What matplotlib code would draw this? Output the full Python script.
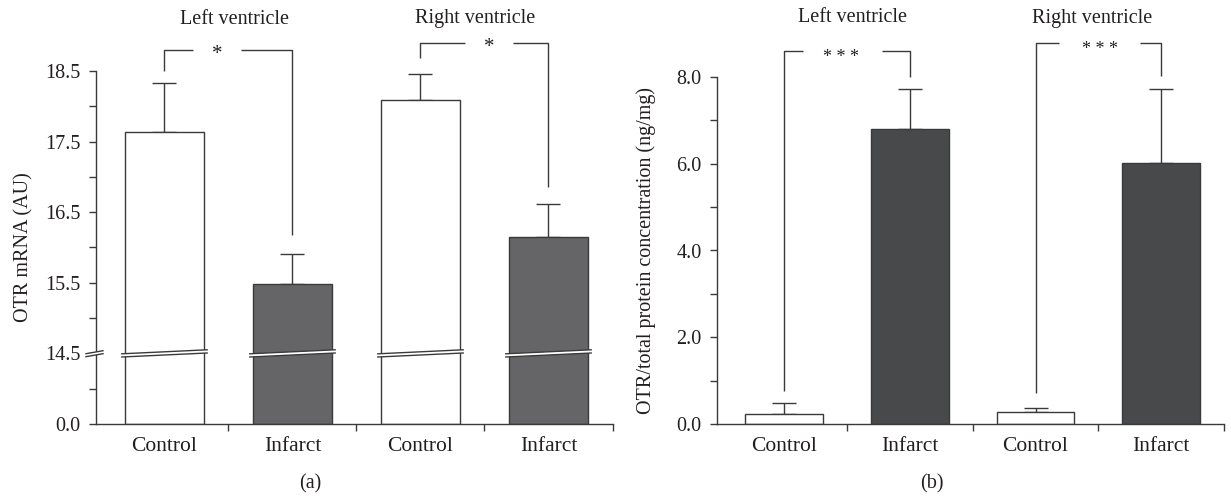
import numpy as np
import matplotlib
matplotlib.use("Agg")
import matplotlib.pyplot as plt
from matplotlib.transforms import blended_transform_factory
from matplotlib.patches import Polygon
from matplotlib.ticker import FixedLocator, FixedFormatter

# ---------------- data ----------------
categories = ["Control", "Infarct", "Control", "Infarct"]
groups = ["Left ventricle", "Right ventricle"]

mrna_mean = [17.64, 15.49, 18.09, 16.15]
mrna_err = [0.69, 0.42, 0.37, 0.46]

protein_mean = [0.23, 6.80, 0.27, 6.01]
protein_err = [0.25, 0.92, 0.09, 1.71]

# brackets: (x_left, x_right, y_top, y_left_leg, y_right_leg, label, gap_start, gap_end, label_x)
mrna_brackets = [
    (0, 1, 18.80, 18.50, 16.18, "*", 0.22, 0.60, 0.41),
    (2, 3, 18.90, 18.68, 16.86, "*", 2.35, 2.72, 2.54),
]
protein_brackets = [
    (0, 1, 8.60, 0.76, 8.00, "* * *", 0.15, 0.78, 0.455),
    (2, 3, 8.78, 0.72, 8.02, "* * *", 2.19, 2.83, 2.51),
]

mrna_major = [0.0, 14.5, 15.5, 16.5, 17.5, 18.5]
mrna_minor = [7.25, 15.0, 16.0, 17.0, 18.0]
prot_major = [0.0, 2.0, 4.0, 6.0, 8.0]
prot_minor = [1.0, 3.0, 5.0, 7.0]

# ---------------- style ----------------
plt.rcParams['font.family'] = ['Liberation Serif', 'DejaVu Serif']
TXT = "#231f20"
LINE = "#3a3a3a"
W, H = 1231, 498
fig = plt.figure(figsize=(W / 100, H / 100), dpi=100)

ax1 = fig.add_axes([96 / W, 1 - 424 / H, (612.5 - 96) / W, (424 - 71) / H])
ax2 = fig.add_axes([717 / W, 1 - 424 / H, (1224 - 717) / W, (424 - 77) / H])

BREAK = 14.5


def fwd(v):
    v = np.asarray(v, dtype=float)
    return np.where(v < BREAK, v / BREAK, v - (BREAK - 1))


def inv(d):
    d = np.asarray(d, dtype=float)
    return np.where(d < 1, d * BREAK, d + (BREAK - 1))


x = np.arange(len(categories))
bw = 0.62
left_fill = ["white", "#656567", "white", "#656567"]
right_fill = ["white", "#48494b", "white", "#48494b"]


def style_axes(ax, ylim, major, minor, ylabel, label_x):
    ax.set_xlim(-0.535, 3.5)
    ax.set_ylim(*ylim)
    for s in ["top", "right"]:
        ax.spines[s].set_visible(False)
    for s in ["left", "bottom"]:
        ax.spines[s].set_color(LINE)
        ax.spines[s].set_linewidth(1.0)
    ax.xaxis.set_major_locator(FixedLocator(list(x)))
    ax.xaxis.set_major_formatter(FixedFormatter(categories))
    ax.xaxis.set_minor_locator(FixedLocator([0.5, 1.5, 2.5, 3.5]))
    ax.tick_params(axis="x", which="major", length=0, pad=9, labelsize=15.5, labelcolor=TXT)
    ax.tick_params(axis="x", which="minor", length=5, width=1.0, color=LINE, direction="out")
    ax.yaxis.set_major_locator(FixedLocator(major))
    ax.yaxis.set_major_formatter(FixedFormatter(["%.1f" % m for m in major]))
    ax.yaxis.set_minor_locator(FixedLocator(minor))
    ax.tick_params(axis="y", which="both", length=5, width=1.0, color=LINE, direction="out")
    ax.tick_params(axis="y", which="major", pad=6, labelsize=14.5, labelcolor=TXT)
    ax.set_ylabel(ylabel, fontsize=14.5, color=TXT)
    ax.yaxis.set_label_coords(label_x, 0.5)


def draw_brackets(ax, brackets, fs, dy):
    for (xl, xr, yt, yl, yr, lab, g0, g1, tx) in brackets:
        kw = dict(color=LINE, lw=1.0, clip_on=False, solid_capstyle="butt")
        ax.plot([xl, xl, g0], [yl, yt, yt], **kw)
        ax.plot([g1, xr, xr], [yt, yt, yr], **kw)
        ax.annotate(lab, (tx, yt), xytext=(0, dy), textcoords="offset points",
                    ha="center", va="baseline", fontsize=fs, color=TXT,
                    annotation_clip=False)


def draw_titles(ax, xs, ypix):
    tr = blended_transform_factory(ax.transData, fig.transFigure)
    for g, gx in zip(groups, xs):
        ax.text(gx, 1 - ypix / H, g, transform=tr, ha="center", va="center",
                fontsize=14.5, color=TXT)


# ---------------- panel (a) ----------------
ax1.set_yscale("function", functions=(fwd, inv))
ax1.bar(x, mrna_mean, width=bw, color=left_fill, edgecolor=LINE, linewidth=1.0, zorder=2)
ax1.errorbar(x, mrna_mean, yerr=[np.zeros(len(x)), mrna_err], fmt="none",
             ecolor=LINE, elinewidth=1.0, capsize=8.5, capthick=1.0, zorder=1)
style_axes(ax1, (0, 18.5), mrna_major, mrna_minor, "OTR mRNA (AU)", -0.122)
draw_brackets(ax1, mrna_brackets, 15, -6.5)
draw_titles(ax1, [0.55, 2.43], 19)

# break marks
fig.canvas.draw()
bbox = ax1.get_window_extent()
apx_w, apx_h = bbox.width, bbox.height
yb = float(fwd(BREAK)) / float(fwd(18.5))
trb = blended_transform_factory(ax1.transData, ax1.transAxes)
dxd = 1.0 / 128.0  # data units per pixel approx
for xi in x:
    x0 = xi - bw / 2 - 3 * dxd
    x1 = xi + bw / 2 + 3 * dxd
    lo = (-2.0 - 1.6) / apx_h
    hi = (-2.0 + 1.6) / apx_h
    rise = 4.0 / apx_h
    poly = Polygon([[x0, yb + lo], [x1, yb + lo + rise], [x1, yb + hi + rise], [x0, yb + hi]],
                   closed=True, facecolor="white", edgecolor="none", transform=trb,
                   zorder=5, clip_on=False)
    ax1.add_patch(poly)
    for off in (lo, hi):
        ax1.plot([x0, x1], [yb + off, yb + off + rise], color=LINE, lw=1.0,
                 transform=trb, zorder=6, clip_on=False)

# axis break mark
ax0 = -10 / apx_w
ax1x = 7 / apx_w
lo = (-1.8 - 1.5) / apx_h
hi = (-1.8 + 1.5) / apx_h
rise = 3.0 / apx_h
poly = Polygon([[ax0, yb + lo], [ax1x, yb + lo + rise], [ax1x, yb + hi + rise], [ax0, yb + hi]],
               closed=True, facecolor="white", edgecolor="none", transform=ax1.transAxes,
               zorder=5, clip_on=False)
ax1.add_patch(poly)
for off in (lo, hi):
    ax1.plot([ax0, ax1x], [yb + off, yb + off + rise], color=LINE, lw=1.0,
             transform=ax1.transAxes, zorder=6, clip_on=False)

# ---------------- panel (b) ----------------
ax2.bar(x, protein_mean, width=bw, color=right_fill, edgecolor=LINE, linewidth=1.0, zorder=2)
ax2.errorbar(x, protein_mean, yerr=[np.zeros(len(x)), protein_err], fmt="none",
             ecolor=LINE, elinewidth=1.0, capsize=8.5, capthick=1.0, zorder=1)
style_axes(ax2, (0, 8.0), prot_major, prot_minor,
           "OTR/total protein concentration (ng/mg)", -0.12)
draw_brackets(ax2, protein_brackets, 13, -8)
draw_titles(ax2, [0.54, 2.45], 18)

fig.text(310 / W, 1 - 484 / H, "(a)", ha="center", va="center", fontsize=14.5, color=TXT)
fig.text(932 / W, 1 - 484 / H, "(b)", ha="center", va="center", fontsize=14.5, color=TXT)

fig.savefig("out.png", dpi=100)
